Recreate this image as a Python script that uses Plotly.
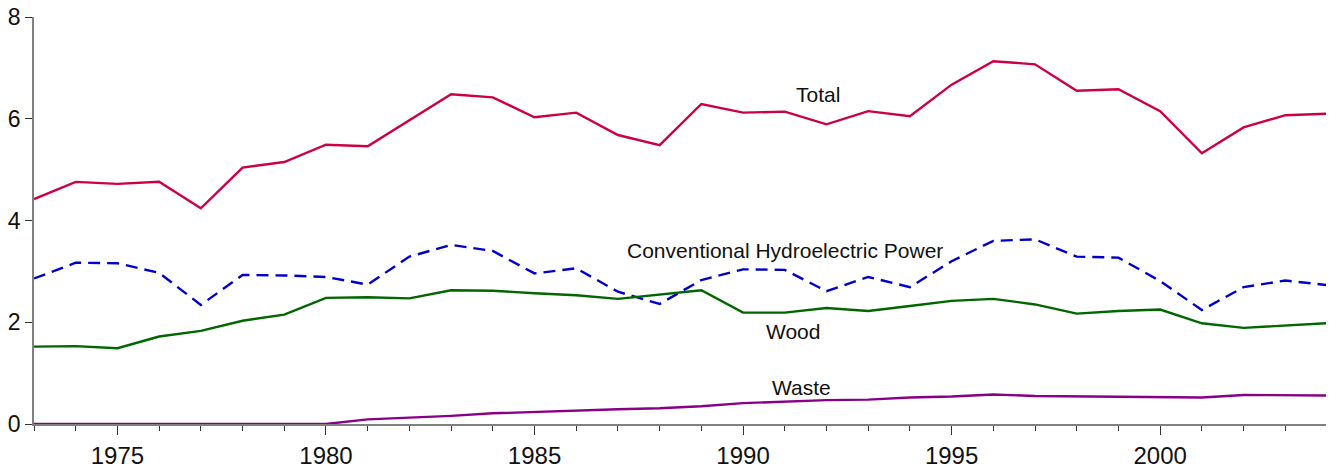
import plotly.graph_objects as go

years = list(range(1973, 2005))

total = [4.42, 4.76, 4.72, 4.76, 4.24, 5.04, 5.15, 5.49, 5.46, 5.97,
         6.48, 6.42, 6.03, 6.12, 5.68, 5.48, 6.29, 6.12, 6.14, 5.89,
         6.15, 6.05, 6.67, 7.13, 7.07, 6.55, 6.58, 6.15, 5.32, 5.83,
         6.07, 6.10]

hydro = [2.86, 3.17, 3.16, 2.97, 2.34, 2.93, 2.92, 2.89, 2.74, 3.29,
         3.52, 3.40, 2.96, 3.06, 2.60, 2.36, 2.83, 3.04, 3.03, 2.61,
         2.89, 2.69, 3.20, 3.60, 3.63, 3.29, 3.27, 2.81, 2.24, 2.69,
         2.82, 2.73]

wood = [1.52, 1.53, 1.49, 1.72, 1.83, 2.03, 2.15, 2.48, 2.49, 2.47,
        2.63, 2.62, 2.57, 2.53, 2.46, 2.55, 2.63, 2.19, 2.19, 2.28,
        2.22, 2.32, 2.42, 2.46, 2.35, 2.17, 2.22, 2.25, 1.98, 1.89,
        1.93, 1.98]

waste = [0.0, 0.0, 0.0, 0.0, 0.0, 0.0, 0.0, 0.0, 0.09, 0.12,
         0.16, 0.21, 0.24, 0.26, 0.29, 0.31, 0.35, 0.41, 0.44, 0.47,
         0.48, 0.52, 0.54, 0.58, 0.55, 0.54, 0.54, 0.52, 0.52, 0.57,
         0.57, 0.56]

y_ticks = [0, 2, 4, 6, 8]
x_ticks = [1975, 1980, 1985, 1990, 1995, 2000]

FONT = "Liberation Sans, Arial, sans-serif"

fig = go.Figure()

series = [
    ("Total", total, "#cc0044", "solid"),
    ("Conventional Hydroelectric Power", hydro, "#0000cc", "12px,7px"),
    ("Wood", wood, "#006600", "solid"),
    ("Waste", waste, "#880088", "solid"),
]

for name, vals, color, dash in series:
    fig.add_trace(
        go.Scatter(
            x=years,
            y=vals,
            mode="lines",
            name=name,
            line=dict(color=color, width=2.4, dash=dash),
            cliponaxis=False,
        )
    )

# line labels placed next to each series
labels = [
    ("Total", 1991.8, 6.48),
    ("Conventional Hydroelectric Power", 1991.0, 3.42),
    ("Wood", 1991.2, 1.81),
    ("Waste", 1991.4, 0.71),
]
for text, lx, ly in labels:
    fig.add_annotation(
        x=lx, y=ly, text=text, showarrow=False,
        font=dict(family=FONT, size=21, color="#111111"),
    )

# page body has an 8px margin, so the figure is offset by it
fig.update_layout(
    width=1326,
    height=461,
    margin=dict(l=26, r=7, t=9, b=45, autoexpand=False),
    paper_bgcolor="white",
    plot_bgcolor="white",
    showlegend=False,
    font=dict(family=FONT, size=24, color="#111111"),
)

fig.update_xaxes(
    range=[1973, 2004],
    tickvals=x_ticks,
    ticks="outside",
    ticklen=9,
    tickcolor="#333333",
    showline=True,
    linecolor="#808080",
    linewidth=1.5,
    showgrid=False,
    zeroline=False,
    automargin=False,
    ticklabeloverflow="allow",
    minor=dict(dtick=1, tick0=1973, ticks="outside", ticklen=5, tickcolor="#333333", showgrid=False),
)
fig.update_yaxes(
    range=[0, 8],
    tickvals=y_ticks,
    ticks="outside",
    ticklen=7,
    tickcolor="#333333",
    tickfont=dict(size=23),
    showline=True,
    linecolor="#808080",
    linewidth=1.5,
    showgrid=False,
    zeroline=False,
    automargin=False,
    ticklabeloverflow="allow",
)

fig.write_html("out.html")
